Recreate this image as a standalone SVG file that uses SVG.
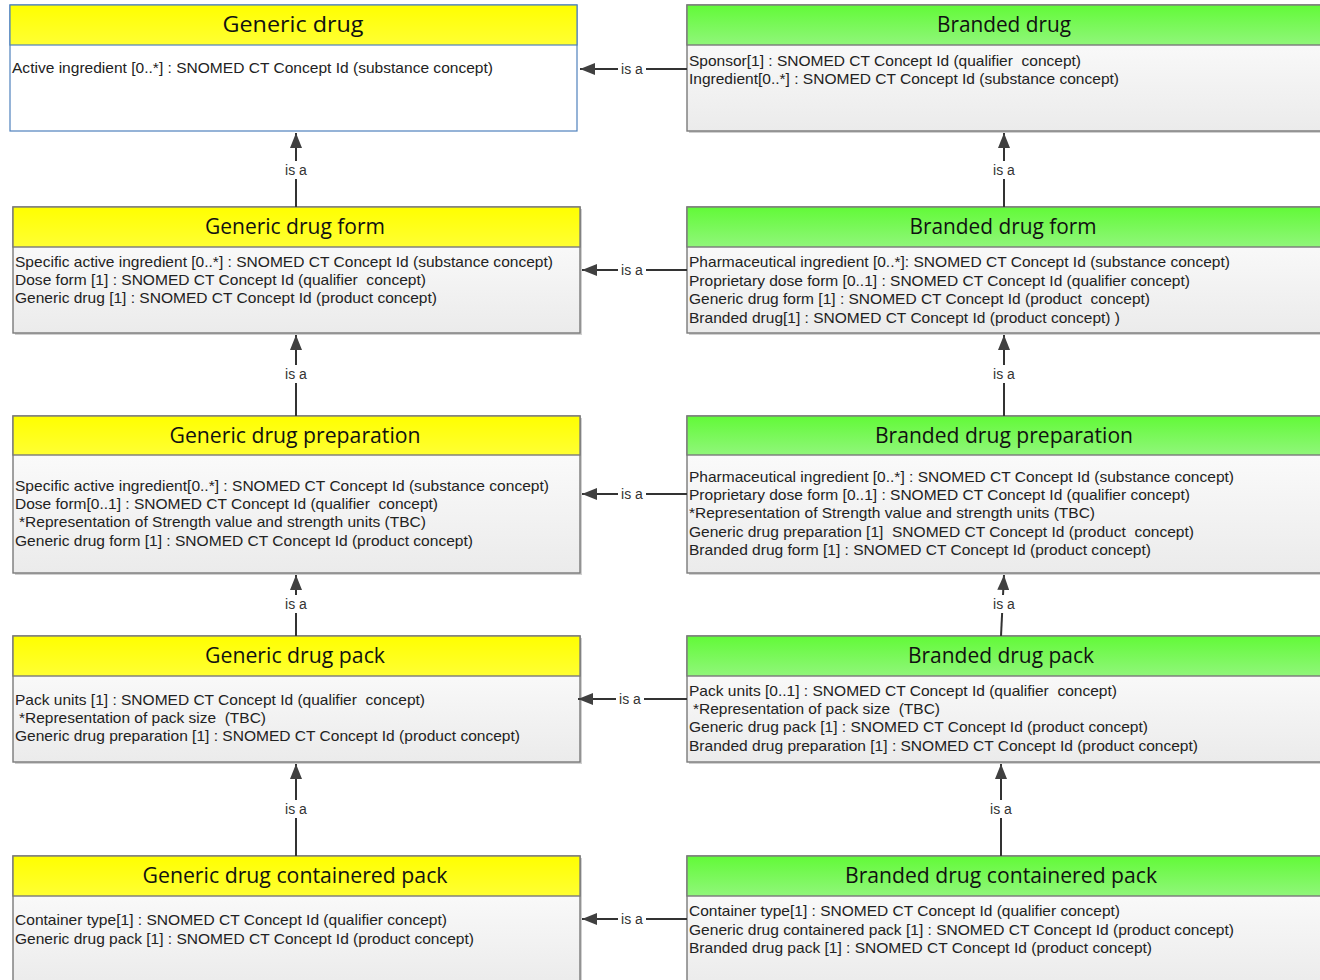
<svg xmlns="http://www.w3.org/2000/svg" width="1320" height="980" viewBox="0 0 1320 980">
  <defs>
    <linearGradient id="yel" x1="0" y1="0" x2="0" y2="1">
      <stop offset="0" stop-color="#ffff00"/>
      <stop offset="1" stop-color="#ffff33"/>
    </linearGradient>
    <linearGradient id="grn" x1="0" y1="0" x2="0" y2="1">
      <stop offset="0" stop-color="#62fa38"/>
      <stop offset="1" stop-color="#90f67a"/>
    </linearGradient>
    <linearGradient id="bodyGrad" x1="0" y1="0" x2="0" y2="1">
      <stop offset="0" stop-color="#ffffff"/>
      <stop offset="1" stop-color="#ebebeb"/>
    </linearGradient>
    <marker id="arr" markerUnits="userSpaceOnUse" markerWidth="16" markerHeight="12" refX="15" refY="6" orient="auto">
      <path d="M0,0 L15,6 L0,12 z" fill="#404040"/>
    </marker>
  </defs>
  <style>
    text { white-space: pre; }
    .title { font-family: "Open Sans", "Noto Sans", sans-serif; font-size: 21px; fill: #111; text-anchor: middle; }
    .attr { font-family: "Liberation Sans Narrow", "Liberation Sans", Arial, sans-serif; font-size: 15px; fill: #222; }
    .lbl { font-family: "Liberation Sans", Arial, sans-serif; font-size: 14px; fill: #333; text-anchor: middle; }
    .shadow { fill: #d0d0d0; }
    .hdY { fill: url(#yel); stroke: #7a7a7a; stroke-width: 1.4; }
    .hdG { fill: url(#grn); stroke: #7a7a7a; stroke-width: 1.4; }
    .body { fill: url(#bodyGrad); stroke: #7a7a7a; stroke-width: 1.4; }
    .conn { stroke: #333; stroke-width: 2; fill: none; marker-end: url(#arr); }
    .gap { fill: #ffffff; }
  </style>

  <rect width="1320" height="980" fill="#ffffff"/>

  <!-- left column: generic products -->
  <g id="generic-drug">
    <rect x="10" y="5" width="567" height="126" fill="#ffffff" stroke="#4f81bd" stroke-width="1.2"/>
    <rect x="10" y="5" width="567" height="40" fill="url(#yel)" stroke="#4f81bd" stroke-width="1.2"/>
    <text class="title" x="293" y="32" textLength="141" lengthAdjust="spacingAndGlyphs">Generic drug</text>
    <text class="attr" x="12" y="73" textLength="481" lengthAdjust="spacingAndGlyphs">Active ingredient [0..*] : SNOMED CT Concept Id (substance concept)</text>
  </g>

  <g id="generic-drug-form">
    <rect class="shadow" x="15" y="209" width="567" height="126"/>
    <rect class="body" x="13" y="207" width="567" height="126"/>
    <rect class="hdY" x="13" y="207" width="567" height="40"/>
    <text class="title" x="295" y="234" textLength="180" lengthAdjust="spacingAndGlyphs">Generic drug form</text>
    <text class="attr" x="15" y="267" textLength="538" lengthAdjust="spacingAndGlyphs">Specific active ingredient [0..*] : SNOMED CT Concept Id (substance concept)</text>
    <text class="attr" x="15" y="285" textLength="411" lengthAdjust="spacingAndGlyphs">Dose form [1] : SNOMED CT Concept Id (qualifier  concept)</text>
    <text class="attr" x="15" y="303" textLength="422" lengthAdjust="spacingAndGlyphs">Generic drug [1] : SNOMED CT Concept Id (product concept)</text>
  </g>

  <g id="generic-drug-preparation">
    <rect class="shadow" x="15" y="418" width="567" height="157"/>
    <rect class="body" x="13" y="416" width="567" height="157"/>
    <rect class="hdY" x="13" y="416" width="567" height="39"/>
    <text class="title" x="295" y="443" textLength="251" lengthAdjust="spacingAndGlyphs">Generic drug preparation</text>
    <text class="attr" x="15" y="491" textLength="534" lengthAdjust="spacingAndGlyphs">Specific active ingredient[0..*] : SNOMED CT Concept Id (substance concept)</text>
    <text class="attr" x="15" y="509" textLength="423" lengthAdjust="spacingAndGlyphs">Dose form[0..1] : SNOMED CT Concept Id (qualifier  concept)</text>
    <text class="attr" x="19" y="527" textLength="407" lengthAdjust="spacingAndGlyphs">*Representation of Strength value and strength units (TBC)</text>
    <text class="attr" x="15" y="546" textLength="458" lengthAdjust="spacingAndGlyphs">Generic drug form [1] : SNOMED CT Concept Id (product concept)</text>
  </g>

  <g id="generic-drug-pack">
    <rect class="shadow" x="15" y="638" width="567" height="126"/>
    <rect class="body" x="13" y="636" width="567" height="126"/>
    <rect class="hdY" x="13" y="636" width="567" height="40"/>
    <text class="title" x="295" y="663" textLength="180" lengthAdjust="spacingAndGlyphs">Generic drug pack</text>
    <text class="attr" x="15" y="705" textLength="410" lengthAdjust="spacingAndGlyphs">Pack units [1] : SNOMED CT Concept Id (qualifier  concept)</text>
    <text class="attr" x="19" y="723" textLength="247" lengthAdjust="spacingAndGlyphs">*Representation of pack size  (TBC)</text>
    <text class="attr" x="15" y="741" textLength="505" lengthAdjust="spacingAndGlyphs">Generic drug preparation [1] : SNOMED CT Concept Id (product concept)</text>
  </g>

  <g id="generic-drug-containered-pack">
    <rect class="shadow" x="15" y="858" width="567" height="130"/>
    <rect class="body" x="13" y="856" width="567" height="130"/>
    <rect class="hdY" x="13" y="856" width="567" height="40"/>
    <text class="title" x="295" y="883" textLength="305" lengthAdjust="spacingAndGlyphs">Generic drug containered pack</text>
    <text class="attr" x="15" y="925" textLength="432" lengthAdjust="spacingAndGlyphs">Container type[1] : SNOMED CT Concept Id (qualifier concept)</text>
    <text class="attr" x="15" y="944" textLength="459" lengthAdjust="spacingAndGlyphs">Generic drug pack [1] : SNOMED CT Concept Id (product concept)</text>
  </g>

  <!-- right column: branded products -->
  <g id="branded-drug">
    <rect class="shadow" x="689" y="7" width="640" height="126"/>
    <rect class="body" x="687" y="5" width="640" height="126"/>
    <rect class="hdG" x="687" y="5" width="640" height="40"/>
    <text class="title" x="1004" y="32" textLength="134" lengthAdjust="spacingAndGlyphs">Branded drug</text>
    <text class="attr" x="689" y="66" textLength="392" lengthAdjust="spacingAndGlyphs">Sponsor[1] : SNOMED CT Concept Id (qualifier  concept)</text>
    <text class="attr" x="689" y="84" textLength="430" lengthAdjust="spacingAndGlyphs">Ingredient[0..*] : SNOMED CT Concept Id (substance concept)</text>
  </g>

  <g id="branded-drug-form">
    <rect class="shadow" x="689" y="209" width="640" height="126"/>
    <rect class="body" x="687" y="207" width="640" height="126"/>
    <rect class="hdG" x="687" y="207" width="640" height="40"/>
    <text class="title" x="1003" y="234" textLength="187" lengthAdjust="spacingAndGlyphs">Branded drug form</text>
    <text class="attr" x="689" y="267" textLength="541" lengthAdjust="spacingAndGlyphs">Pharmaceutical ingredient [0..*]: SNOMED CT Concept Id (substance concept)</text>
    <text class="attr" x="689" y="286" textLength="501" lengthAdjust="spacingAndGlyphs">Proprietary dose form [0..1] : SNOMED CT Concept Id (qualifier concept)</text>
    <text class="attr" x="689" y="304" textLength="461" lengthAdjust="spacingAndGlyphs">Generic drug form [1] : SNOMED CT Concept Id (product  concept)</text>
    <text class="attr" x="689" y="323" textLength="431" lengthAdjust="spacingAndGlyphs">Branded drug[1] : SNOMED CT Concept Id (product concept) )</text>
  </g>

  <g id="branded-drug-preparation">
    <rect class="shadow" x="689" y="418" width="640" height="157"/>
    <rect class="body" x="687" y="416" width="640" height="157"/>
    <rect class="hdG" x="687" y="416" width="640" height="39"/>
    <text class="title" x="1004" y="443" textLength="258" lengthAdjust="spacingAndGlyphs">Branded drug preparation</text>
    <text class="attr" x="689" y="482" textLength="545" lengthAdjust="spacingAndGlyphs">Pharmaceutical ingredient [0..*] : SNOMED CT Concept Id (substance concept)</text>
    <text class="attr" x="689" y="500" textLength="501" lengthAdjust="spacingAndGlyphs">Proprietary dose form [0..1] : SNOMED CT Concept Id (qualifier concept)</text>
    <text class="attr" x="689" y="518" textLength="406" lengthAdjust="spacingAndGlyphs">*Representation of Strength value and strength units (TBC)</text>
    <text class="attr" x="689" y="537" textLength="505" lengthAdjust="spacingAndGlyphs">Generic drug preparation [1]  SNOMED CT Concept Id (product  concept)</text>
    <text class="attr" x="689" y="555" textLength="462" lengthAdjust="spacingAndGlyphs">Branded drug form [1] : SNOMED CT Concept Id (product concept)</text>
  </g>

  <g id="branded-drug-pack">
    <rect class="shadow" x="689" y="638" width="640" height="126"/>
    <rect class="body" x="687" y="636" width="640" height="126"/>
    <rect class="hdG" x="687" y="636" width="640" height="40"/>
    <text class="title" x="1001" y="663" textLength="186" lengthAdjust="spacingAndGlyphs">Branded drug pack</text>
    <text class="attr" x="689" y="696" textLength="428" lengthAdjust="spacingAndGlyphs">Pack units [0..1] : SNOMED CT Concept Id (qualifier  concept)</text>
    <text class="attr" x="693" y="714" textLength="247" lengthAdjust="spacingAndGlyphs">*Representation of pack size  (TBC)</text>
    <text class="attr" x="689" y="732" textLength="459" lengthAdjust="spacingAndGlyphs">Generic drug pack [1] : SNOMED CT Concept Id (product concept)</text>
    <text class="attr" x="689" y="751" textLength="509" lengthAdjust="spacingAndGlyphs">Branded drug preparation [1] : SNOMED CT Concept Id (product concept)</text>
  </g>

  <g id="branded-drug-containered-pack">
    <rect class="shadow" x="689" y="858" width="640" height="130"/>
    <rect class="body" x="687" y="856" width="640" height="130"/>
    <rect class="hdG" x="687" y="856" width="640" height="40"/>
    <text class="title" x="1001" y="883" textLength="312" lengthAdjust="spacingAndGlyphs">Branded drug containered pack</text>
    <text class="attr" x="689" y="916" textLength="431" lengthAdjust="spacingAndGlyphs">Container type[1] : SNOMED CT Concept Id (qualifier concept)</text>
    <text class="attr" x="689" y="935" textLength="545" lengthAdjust="spacingAndGlyphs">Generic drug containered pack [1] : SNOMED CT Concept Id (product concept)</text>
    <text class="attr" x="689" y="953" textLength="463" lengthAdjust="spacingAndGlyphs">Branded drug pack [1] : SNOMED CT Concept Id (product concept)</text>
  </g>

  <!-- "is a" generalisation links -->
  <g id="connectors">
    <!-- vertical, left column -->
    <path class="conn" d="M296,207 L296,133"/>
    <rect class="gap" x="282" y="161" width="28" height="18"/>
    <text class="lbl" x="296" y="175">is a</text>

    <path class="conn" d="M296,416 L296,335"/>
    <rect class="gap" x="282" y="365" width="28" height="18"/>
    <text class="lbl" x="296" y="379">is a</text>

    <path class="conn" d="M296,636 L296,575"/>
    <rect class="gap" x="282" y="595" width="28" height="18"/>
    <text class="lbl" x="296" y="609">is a</text>

    <path class="conn" d="M296,856 L296,764"/>
    <rect class="gap" x="282" y="800" width="28" height="18"/>
    <text class="lbl" x="296" y="814">is a</text>

    <!-- vertical, right column -->
    <path class="conn" d="M1004,207 L1004,133"/>
    <rect class="gap" x="990" y="161" width="28" height="18"/>
    <text class="lbl" x="1004" y="175">is a</text>

    <path class="conn" d="M1004,416 L1004,335"/>
    <rect class="gap" x="990" y="365" width="28" height="18"/>
    <text class="lbl" x="1004" y="379">is a</text>

    <path class="conn" d="M1001,636 L1004,575"/>
    <rect class="gap" x="990" y="595" width="28" height="18"/>
    <text class="lbl" x="1004" y="609">is a</text>

    <path class="conn" d="M1001,856 L1001,764"/>
    <rect class="gap" x="987" y="800" width="28" height="18"/>
    <text class="lbl" x="1001" y="814">is a</text>

    <!-- horizontal, branded to generic -->
    <path class="conn" d="M687,69 L580,69"/>
    <rect class="gap" x="618" y="60" width="28" height="18"/>
    <text class="lbl" x="632" y="74">is a</text>

    <path class="conn" d="M687,270 L582,270"/>
    <rect class="gap" x="618" y="261" width="28" height="18"/>
    <text class="lbl" x="632" y="275">is a</text>

    <path class="conn" d="M687,494 L582,494"/>
    <rect class="gap" x="618" y="485" width="28" height="18"/>
    <text class="lbl" x="632" y="499">is a</text>

    <path class="conn" d="M687,699 L578,699"/>
    <rect class="gap" x="616" y="690" width="28" height="18"/>
    <text class="lbl" x="630" y="704">is a</text>

    <path class="conn" d="M687,919 L582,919"/>
    <rect class="gap" x="618" y="910" width="28" height="18"/>
    <text class="lbl" x="632" y="924">is a</text>
  </g>
</svg>
